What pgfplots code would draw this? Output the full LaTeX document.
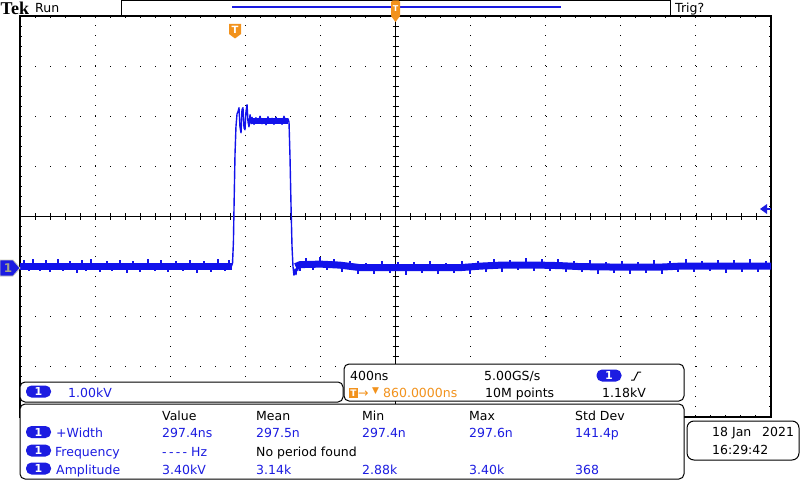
\documentclass[border=0pt]{standalone}
\usepackage{pgfplots}
\pgfplotsset{compat=1.18}
\usepackage{fontspec}
\setmainfont{DejaVu Sans}
\newfontfamily\tekfont{Liberation Serif}
\definecolor{trace}{RGB}{18,18,235}
\definecolor{tekblue}{RGB}{28,28,225}
\definecolor{tekorange}{RGB}{242,146,28}
\definecolor{chgray}{RGB}{165,165,135}

\begin{document}
\begin{tikzpicture}[font=\fontsize{12.5}{14}\selectfont,
  txt/.style={anchor=base west, inner sep=0pt},
  pill/.style={fill=tekblue, text=white, rounded corners=5.5pt, minimum width=25pt,
    minimum height=12pt, inner sep=0pt, font=\bfseries\fontsize{11}{11}\selectfont}]

% graticule: 10 x 8 divisions, 400 ns/div and 1.00 kV/div
\begin{axis}[
  at={(20pt,63pt)}, anchor=south west,
  width=751pt, height=401pt, scale only axis,
  xmin=-5, xmax=5, ymin=-4, ymax=4,
  xtick={-5,...,5}, ytick={-4,...,4},
  minor x tick num=4, minor y tick num=4,
  xticklabels=\empty, yticklabels=\empty,
  tick align=inside,
  major tick length=2pt, minor tick length=2pt,
  tick style={black, line width=1pt},
  grid=major,
  major x grid style={black, line width=1pt, dash pattern=on 1pt off 9.025pt},
  major y grid style={black, line width=1pt, dash pattern=on 1pt off 14.02pt},
  axis line style={black, line width=1.2pt},
  unbounded coords=jump,
]
% centre lines with their ticks
\draw[black, line width=1pt] (axis cs:-5,0) -- (axis cs:5,0);
\draw[black, line width=1pt] (axis cs:0,-4) -- (axis cs:0,4);
\pgfplotsinvokeforeach{-4.8,-4.6,...,4.9}{\draw[black, line width=0.8pt] (axis cs:#1,-0.06) -- (axis cs:#1,0.06);}
\pgfplotsinvokeforeach{-3.8,-3.6,...,3.9}{\draw[black, line width=0.8pt] (axis cs:-0.04,#1) -- (axis cs:0.04,#1);}

% noise band of the trace
\addplot[trace, line width=7pt] coordinates {(-5,-0.99) (-2.18,-0.99)};
\addplot[trace, line width=6pt] coordinates {(-1.93,1.91) (-1.425,1.91)};
\addplot[trace, line width=7pt, line join=round] coordinates {
  (-1.33,-1.0) (-1.27,-0.96) (-1.0,-0.95) (-0.74,-0.97) (-0.47,-1.02) (-0.2,-1.02)
  (0.33,-1.02) (0.86,-1.02) (1.13,-0.99) (1.4,-0.97) (1.92,-0.97) (2.19,-0.98)
  (2.46,-1.0) (2.99,-1.01) (3.52,-1.01) (3.79,-0.99) (4.32,-0.99) (5,-0.99)};

% pulse edges, ringing and plateau
\addplot[trace, line width=1.4pt, line join=round] coordinates {
  (-2.23,-0.99) (-2.184,-0.99) (-2.170,-0.93) (-2.158,-0.5) (-2.150,0.2) (-2.137,1.25)
  (-2.124,1.8) (-2.110,2.05) (-2.097,2.09) (-2.084,2.17) (-2.071,1.79) (-2.057,1.67)
  (-2.044,2.13) (-2.031,2.17) (-2.017,1.77) (-2.004,1.73) (-1.991,2.09) (-1.977,2.23)
  (-1.964,1.89) (-1.951,1.79) (-1.937,2.03) (-1.924,1.85)
  (-1.911,1.98) (-1.884,1.84) (-1.858,1.97) (-1.831,1.86) (-1.804,2.00) (-1.778,1.85)
  (-1.751,1.95) (-1.724,1.83) (-1.698,1.99) (-1.671,1.87) (-1.644,1.96) (-1.618,1.84)
  (-1.591,1.98) (-1.565,1.86) (-1.538,1.95) (-1.511,1.84) (-1.485,2.00) (-1.458,1.87)
  (-1.432,1.95) (-1.418,1.88) (-1.405,1.2) (-1.391,0.2) (-1.378,-0.6) (-1.365,-1.0)
  (-1.352,-1.17) (-1.338,-1.05) (-1.325,-1.16) (-1.312,-0.98) (-1.298,-1.08)};

% noise spikes on the baseline
\addplot[trace, line width=1.2pt] coordinates {
  (-4.947,-0.97) (-4.947,-0.87) (-4.947,nan) (-4.880,-1.01) (-4.880,-1.09) (-4.880,nan)
  (-4.827,-0.97) (-4.827,-0.85) (-4.827,nan) (-4.734,-1.01) (-4.734,-1.08) (-4.734,nan)
  (-4.654,-0.97) (-4.654,-0.86) (-4.654,nan) (-4.601,-1.01) (-4.601,-1.10) (-4.601,nan)
  (-4.494,-0.97) (-4.494,-0.84) (-4.494,nan) (-4.427,-1.01) (-4.427,-1.09) (-4.427,nan)
  (-4.334,-0.97) (-4.334,-0.89) (-4.334,nan) (-4.241,-1.01) (-4.241,-1.12) (-4.241,nan)
  (-4.174,-0.97) (-4.174,-0.87) (-4.174,nan) (-4.121,-1.01) (-4.121,-1.08) (-4.121,nan)
  (-4.055,-0.97) (-4.055,-0.85) (-4.055,nan) (-3.935,-1.01) (-3.935,-1.11) (-3.935,nan)
  (-3.842,-0.97) (-3.842,-0.88) (-3.842,nan) (-3.775,-1.01) (-3.775,-1.09) (-3.775,nan)
  (-3.668,-0.97) (-3.668,-0.86) (-3.668,nan) (-3.575,-1.01) (-3.575,-1.13) (-3.575,nan)
  (-3.495,-0.97) (-3.495,-0.89) (-3.495,nan) (-3.402,-1.01) (-3.402,-1.10) (-3.402,nan)
  (-3.296,-0.97) (-3.296,-0.84) (-3.296,nan) (-3.202,-1.01) (-3.202,-1.08) (-3.202,nan)
  (-3.123,-0.97) (-3.123,-0.87) (-3.123,nan) (-3.029,-1.01) (-3.029,-1.11) (-3.029,nan)
  (-2.923,-0.97) (-2.923,-0.88) (-2.923,nan) (-2.830,-1.01) (-2.830,-1.09) (-2.830,nan)
  (-2.736,-0.97) (-2.736,-0.86) (-2.736,nan) (-2.643,-1.01) (-2.643,-1.12) (-2.643,nan)
  (-2.550,-0.97) (-2.550,-0.89) (-2.550,nan) (-2.457,-1.01) (-2.457,-1.10) (-2.457,nan)
  (-2.364,-0.97) (-2.364,-0.85) (-2.364,nan) (-2.270,-1.01) (-2.270,-1.09) (-2.270,nan)
  (-2.217,-0.97) (-2.217,-0.87) (-2.217,nan)
  (-1.272,-0.97) (-1.272,-1.08) (-1.272,nan) (-1.192,-0.93) (-1.192,-0.82) (-1.192,nan)
  (-1.099,-0.96) (-1.099,-1.06) (-1.099,nan) (-1.005,-0.92) (-1.005,-0.81) (-1.005,nan)
  (-0.912,-0.97) (-0.912,-1.07) (-0.912,nan) (-0.819,-0.94) (-0.819,-0.84) (-0.819,nan)
  (-0.712,-1.00) (-0.712,-1.10) (-0.712,nan) (-0.606,-0.98) (-0.606,-0.88) (-0.606,nan)
  (-0.499,-1.04) (-0.499,-1.15) (-0.499,nan) (-0.393,-1.01) (-0.393,-0.92) (-0.393,nan)
  (-0.286,-1.05) (-0.286,-1.14) (-0.286,nan) (-0.180,-1.00) (-0.180,-0.88) (-0.180,nan)
  (-0.073,-1.04) (-0.073,-1.13) (-0.073,nan) (0.033,-1.00) (0.033,-0.90) (0.033,nan)
  (0.140,-1.04) (0.140,-1.16) (0.140,nan) (0.246,-1.01) (0.246,-0.91) (0.246,nan)
  (0.353,-1.05) (0.353,-1.13) (0.353,nan) (0.459,-1.01) (0.459,-0.89) (0.459,nan)
  (0.566,-1.05) (0.566,-1.15) (0.566,nan) (0.672,-1.01) (0.672,-0.92) (0.672,nan)
  (0.779,-1.04) (0.779,-1.12) (0.779,nan) (0.885,-1.00) (0.885,-0.88) (0.885,nan)
  (0.992,-1.03) (0.992,-1.14) (0.992,nan) (1.099,-0.98) (1.099,-0.89) (1.099,nan)
  (1.205,-1.01) (1.205,-1.10) (1.205,nan) (1.312,-0.96) (1.312,-0.84) (1.312,nan)
  (1.418,-0.99) (1.418,-1.10) (1.418,nan) (1.525,-0.95) (1.525,-0.86) (1.525,nan)
  (1.631,-0.98) (1.631,-1.07) (1.631,nan) (1.738,-0.94) (1.738,-0.82) (1.738,nan)
  (1.844,-0.98) (1.844,-1.09) (1.844,nan) (1.951,-0.94) (1.951,-0.85) (1.951,nan)
  (2.057,-0.99) (2.057,-1.08) (2.057,nan) (2.164,-0.96) (2.164,-0.84) (2.164,nan)
  (2.270,-1.00) (2.270,-1.11) (2.270,nan) (2.377,-0.97) (2.377,-0.88) (2.377,nan)
  (2.483,-1.02) (2.483,-1.11) (2.483,nan) (2.590,-0.99) (2.590,-0.87) (2.590,nan)
  (2.696,-1.03) (2.696,-1.14) (2.696,nan) (2.803,-1.00) (2.803,-0.91) (2.803,nan)
  (2.909,-1.04) (2.909,-1.13) (2.909,nan) (3.016,-1.00) (3.016,-0.88) (3.016,nan)
  (3.122,-1.04) (3.122,-1.15) (3.122,nan) (3.229,-0.99) (3.229,-0.90) (3.229,nan)
  (3.335,-1.03) (3.335,-1.12) (3.335,nan) (3.442,-0.99) (3.442,-0.87) (3.442,nan)
  (3.548,-1.03) (3.548,-1.14) (3.548,nan) (3.655,-0.98) (3.655,-0.89) (3.655,nan)
  (3.762,-1.01) (3.762,-1.10) (3.762,nan) (3.868,-0.97) (3.868,-0.85) (3.868,nan)
  (3.975,-1.01) (3.975,-1.11) (3.975,nan) (4.081,-0.97) (4.081,-0.88) (4.081,nan)
  (4.188,-1.01) (4.188,-1.09) (4.188,nan) (4.294,-0.97) (4.294,-0.86) (4.294,nan)
  (4.401,-1.01) (4.401,-1.12) (4.401,nan) (4.507,-0.97) (4.507,-0.87) (4.507,nan)
  (4.614,-1.01) (4.614,-1.10) (4.614,nan) (4.720,-0.97) (4.720,-0.85) (4.720,nan)
  (4.827,-1.01) (4.827,-1.11) (4.827,nan) (4.933,-0.97) (4.933,-0.88)};
\end{axis}

% screen furniture, in pixel units from the top left corner
\begin{scope}[x=1pt, y=-1pt, shift={(0pt,480pt)}]
  \node[txt, font=\tekfont\bfseries\fontsize{18}{18}\selectfont] at (0.5,14.5) {Tek};
  \node[txt] at (35,13) {Run};
  \node[txt] at (675,13) {Trig?};
  \draw[line width=1pt, fill=white] (121,0.5) rectangle (670,16);
  \draw[tekblue, line width=1.5pt] (232,7) -- (561,7);
  \fill[tekorange, rounded corners=1.5pt] (391,0.5) rectangle (400,17);
  \fill[tekorange] (391,16) -- (400,16) -- (395.5,22) -- cycle;
  \node[text=white, inner sep=0pt, font=\bfseries\fontsize{8}{8}\selectfont] at (395.5,8.5) {T};
  % trigger position marker
  \fill[tekorange] (229,24) -- (241,24) -- (241,34) -- (235,38.5) -- (229,34) -- cycle;
  \node[text=white, inner sep=0pt, font=\bfseries\fontsize{10}{10}\selectfont] at (235,30) {T};
  % channel 1 ground marker
  \filldraw[fill=tekblue, draw=chgray!60, line width=0.8pt] (0,260) -- (13,260) -- (20,268) -- (13,276) -- (0,276) -- cycle;
  \node[text=chgray, inner sep=0pt, font=\bfseries\fontsize{12}{12}\selectfont] at (8,268) {1};
  % trigger level
  \fill[tekblue] (760,209) -- (767,204) -- (767,214) -- cycle;
  \draw[tekblue, line width=1.5pt] (766,209) -- (771,209);

  % readout panels
  \draw[line width=1pt, fill=white, rounded corners=5pt] (20,382) rectangle (343,402);
  \draw[line width=1pt, fill=white, rounded corners=5pt] (344,364) rectangle (684,401);
  \draw[line width=1pt, fill=white, rounded corners=5pt] (20,404) rectangle (684,479);
  \draw[line width=1pt, fill=white, rounded corners=7pt] (687,421) rectangle (799,460);

  \node[pill] at (38.5,391.5) {1};
  \node[txt, text=tekblue] at (68,397) {1.00kV};

  \node[txt] at (350,380) {400ns};
  \node[txt] at (484,380) {5.00GS/s};
  \node[pill] at (609,375.5) {1};
  \draw[line width=1pt] (631,380) -- (634,380) -- (638,372) -- (641,372);
  \fill[tekorange] (349,388) rectangle (358,398);
  \node[text=white, inner sep=0pt, font=\bfseries\fontsize{9}{9}\selectfont] at (353.5,393) {T};
  \node[txt, text=tekorange] at (358,397) {→};
  \node[txt, text=tekorange, font=\fontsize{9}{9}\selectfont] at (372,393) {▼};
  \node[txt, text=tekorange] at (383,397) {860.0000ns};
  \node[txt] at (485,397) {10M points};
  \node[txt] at (602,397) {1.18kV};

  \node[txt] at (162,420) {Value};
  \node[txt] at (256,420) {Mean};
  \node[txt] at (362,420) {Min};
  \node[txt] at (469,420) {Max};
  \node[txt] at (575,420) {Std Dev};

  \node[pill] at (38.5,432) {1};
  \node[pill] at (38.5,450.5) {1};
  \node[pill] at (38.5,468.5) {1};
  \begin{scope}[text=tekblue]
    \node[txt] at (56,437) {+Width};
    \node[txt] at (162,437) {297.4ns};
    \node[txt] at (256,437) {297.5n};
    \node[txt] at (362,437) {297.4n};
    \node[txt] at (469,437) {297.6n};
    \node[txt] at (575,437) {141.4p};
    \node[txt] at (55,456) {Frequency};
    \node[txt] at (162,456) {-\hspace{2.3pt}-\hspace{2.3pt}-\hspace{2.3pt}-\hspace{4pt}Hz};
    \node[txt] at (56,474) {Amplitude};
    \node[txt] at (162,474) {3.40kV};
    \node[txt] at (256,474) {3.14k};
    \node[txt] at (362,474) {2.88k};
    \node[txt] at (469,474) {3.40k};
    \node[txt] at (575,474) {368};
  \end{scope}
  \node[txt] at (256,456) {No period found};

  \node[txt] at (712,436) {18 Jan};
  \node[txt] at (762,436) {2021};
  \node[txt] at (712,454) {16:29:42};
\end{scope}

\pgfresetboundingbox
\path[use as bounding box] (0pt,0pt) rectangle (800pt,480pt);
\end{tikzpicture}
\end{document}
